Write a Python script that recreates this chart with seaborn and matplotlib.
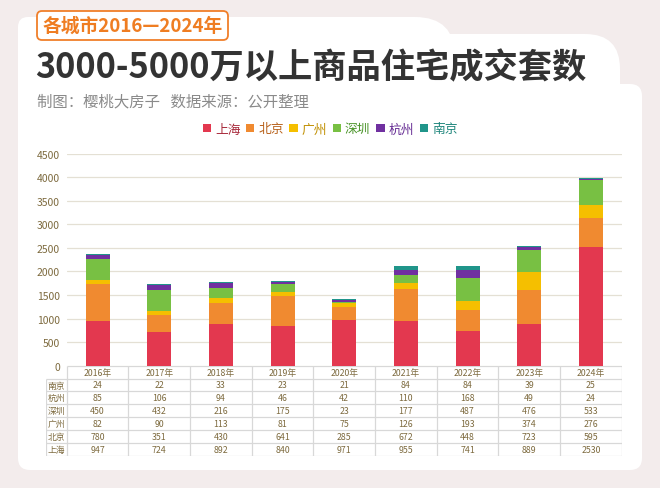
import numpy as np
import pandas as pd
import matplotlib
matplotlib.use("Agg")
import matplotlib.pyplot as plt
import seaborn as sns
from matplotlib.patches import FancyBboxPatch, Patch

# ---------------- data ----------------
years = ["2016年", "2017年", "2018年", "2019年", "2020年", "2021年", "2022年", "2023年", "2024年"]
cities = ["上海", "北京", "广州", "深圳", "杭州", "南京"]
shanghai = [947, 724, 892, 840, 971, 955, 741, 889, 2530]
beijing = [780, 351, 430, 641, 285, 672, 448, 723, 595]
guangzhou = [82, 90, 113, 81, 75, 126, 193, 374, 276]
shenzhen = [450, 432, 216, 175, 23, 177, 487, 476, 533]
hangzhou = [85, 106, 94, 46, 42, 110, 168, 49, 24]
nanjing = [24, 22, 33, 23, 21, 84, 84, 39, 25]
yticks = [0, 500, 1000, 1500, 2000, 2500, 3000, 3500, 4000, 4500]

series = [shanghai, beijing, guangzhou, shenzhen, hangzhou, nanjing]
colors = ["#e3384f", "#f08a30", "#f5bf00", "#78c043", "#7030a0", "#20958a"]
label_colors = ["#a82a3b", "#b8621c", "#c08f00", "#4a9429", "#662d94", "#1d857b"]

sns.set_theme(style="white")
plt.rcParams["font.family"] = ["Noto Sans CJK SC", "DejaVu Sans"]

W, H = 660, 489
fig = plt.figure(figsize=(W / 100, H / 100), dpi=100)
fig.patch.set_facecolor("#f3ecec")

# ---------------- background card ----------------
bg = fig.add_axes([0, 0, 1, 1], zorder=0)
bg.set_xlim(0, W)
bg.set_ylim(H, 0)
bg.axis("off")

def rbox(x0, y0, x1, y1, r, **kw):
    p = FancyBboxPatch((x0, y0), x1 - x0, y1 - y0,
                       boxstyle=f"round,pad=0,rounding_size={r}", **kw)
    bg.add_patch(p)
    return p

white = dict(facecolor="white", edgecolor="none")
rbox(18, 18, 200, 300, 10, **white)
rbox(120, 18, 455, 300, 40, **white)
rbox(400, 35, 620, 300, 35, **white)
rbox(18, 85, 642, 471, 12, **white)

# badge
rbox(37, 12, 228, 41, 5, facecolor="white", edgecolor="#f07f2a", linewidth=1.3)
bg.text(132.5, 26.5, "各城市2016—2024年", ha="center", va="center",
        fontsize=13.5, fontweight="bold", color="#ef7d22")

# titles
bg.text(35, 68, "3000-5000万以上商品住宅成交套数", ha="left", va="center",
        fontsize=24.7, fontweight="bold", color="#333333")
bg.text(37, 102, "制图：樱桃大房子   数据来源：公开整理", ha="left", va="center",
        fontsize=11.1, color="#8a8a8a")

# legend
handles = [Patch(facecolor=c, edgecolor="none", label=n) for c, n in zip(colors, cities)]
fig.legend(handles=handles, loc="center", bbox_to_anchor=(330 / W, 1 - 130 / H),
           ncol=6, frameon=False, fontsize=9.2, handlelength=0.65, handleheight=0.65,
           handletextpad=0.3, columnspacing=0.45, labelcolor=label_colors)

# ---------------- main chart ----------------
ax_l, ax_r = 66.7, 621.7
ax_t, ax_b = 154.7, 366.7
ax = fig.add_axes([ax_l / W, 1 - ax_b / H, (ax_r - ax_l) / W, (ax_b - ax_t) / H], zorder=2)
ax.set_facecolor("none")

cum = np.cumsum(np.array(series), axis=0)
for i in range(len(series) - 1, -1, -1):
    df = pd.DataFrame({"year": years, "value": cum[i]})
    sns.barplot(data=df, x="year", y="value", order=years, color=colors[i],
                saturation=1, width=0.39, linewidth=0, ax=ax)

ax.set_xlim(-0.5, len(years) - 0.5)
ax.set_ylim(0, 4500)
ax.set_yticks(yticks)
ax.set_yticklabels([str(v) for v in yticks])
ax.set_xticks([])
ax.set_xlabel("")
ax.set_ylabel("")
ax.yaxis.grid(True, color="#e4e0d4", linewidth=0.9)
ax.set_axisbelow(True)
for s in ax.spines.values():
    s.set_visible(False)
ax.tick_params(axis="y", length=0, pad=5, labelsize=7.5, labelcolor="#7d6a3e")

# ---------------- data table ----------------
t_l, t_t, t_b = 46.0, 366.7, 456.7
slot = (ax_r - ax_l) / len(years)
lab_w = (ax_l - t_l) / slot
tax = fig.add_axes([t_l / W, 1 - t_b / H, (ax_r - t_l) / W, (t_b - t_t) / H], zorder=3)
tax.set_xlim(-0.5 - lab_w, len(years) - 0.5)
nrows = len(cities) + 1
tax.set_ylim(nrows, 0)
tax.axis("off")

lc = "#d8d8d8"
lw = 0.9
tax.hlines(0, -0.5, len(years) - 0.5, color=lc, lw=lw)
tax.hlines(np.arange(1, nrows + 1), -0.5 - lab_w, len(years) - 0.5, color=lc, lw=lw)
tax.vlines(-0.5 - lab_w, 1, nrows, color=lc, lw=lw)
tax.vlines(np.arange(len(years) + 1) - 0.5, 0, nrows, color=lc, lw=lw)

tc = "#7d6a3e"
fs = 6.3
for j, y in enumerate(years):
    tax.text(j, 0.55, y, ha="center", va="center", fontsize=fs, color=tc)
rows = list(zip(cities, series))[::-1]
for r, (name, vals) in enumerate(rows, start=1):
    tax.text(-0.5 - lab_w / 2, r + 0.5, name, ha="center", va="center", fontsize=fs, color=tc)
    for j, v in enumerate(vals):
        tax.text(j, r + 0.5, str(v), ha="center", va="center", fontsize=fs, color=tc)

fig.savefig("out.png", dpi=100, facecolor=fig.get_facecolor())
